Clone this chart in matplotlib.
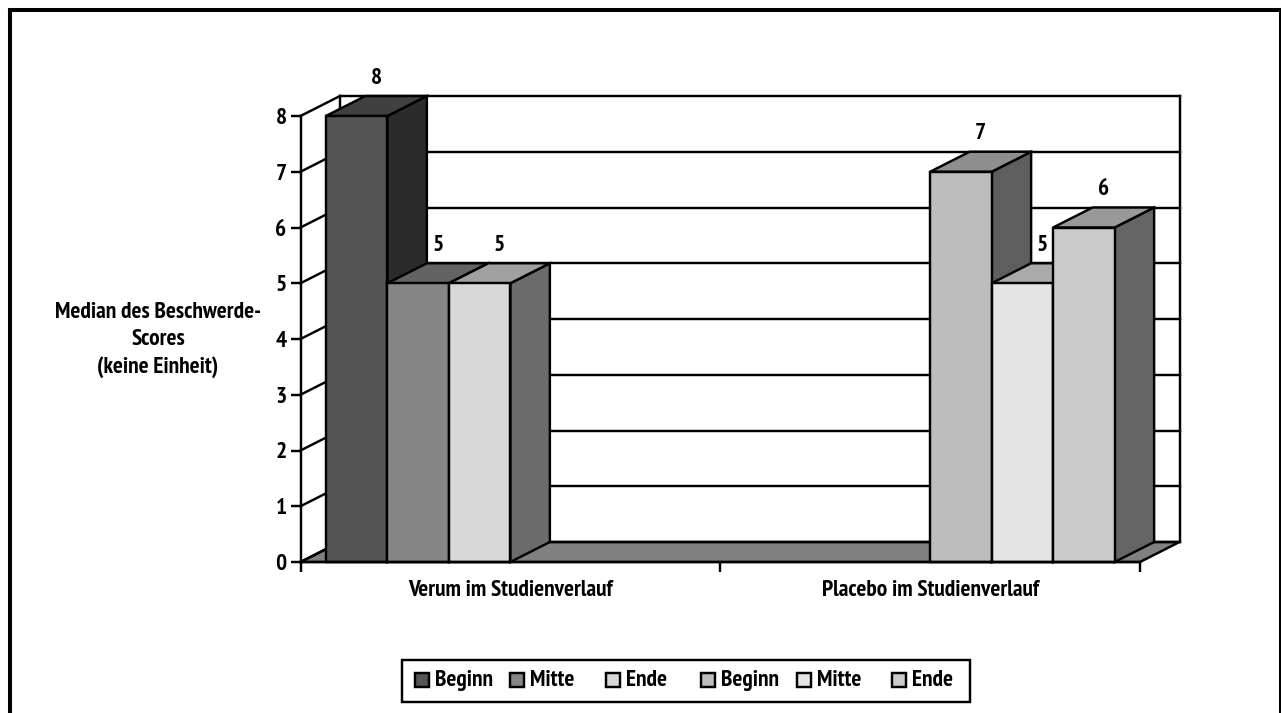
#!/usr/bin/env python3
"""Pseudo-3D grey bar chart: median complaint score, verum vs placebo."""
import numpy as np
import matplotlib; matplotlib.use("Agg")
import matplotlib.pyplot as plt
from matplotlib.patches import Polygon, Rectangle
from matplotlib.lines import Line2D

plt.rcParams["font.family"] = ["PT Sans Narrow", "Liberation Sans", "DejaVu Sans"]
plt.rcParams["font.weight"] = "bold"

# data: six series over two groups, the empty slots stay NaN
groups = ["Verum im Studienverlauf", "Placebo im Studienverlauf"]
series = ["Beginn", "Mitte", "Ende", "Beginn", "Mitte", "Ende"]
verum = [8, 5, 5, np.nan, np.nan, np.nan]
placebo = [np.nan, np.nan, np.nan, 7, 5, 6]
yticks = [0, 1, 2, 3, 4, 5, 6, 7, 8]
ylabel = "Median des Beschwerde-\nScores\n(keine Einheit)"

front = ["#555555", "#868686", "#d8d8d8", "#bdbdbd", "#e4e4e4", "#cbcbcb"]
top = ["#404040", "#636363", "#a0a0a0", "#8e8e8e", "#aaaaaa", "#999999"]
side = ["#2b2b2b", "#444444", "#6b6b6b", "#5e5e5e", "#666666", "#656565"]
FLOOR = "#808080"

W, H = 1281, 713
LW = 1.75
FS = 16.8
x0, x1, y0, y8 = 300.5, 1140.0, 562.0, 116.0

fig = plt.figure(figsize=(W / 100, H / 100), dpi=100)
ax = fig.add_axes([x0 / W, 1 - y0 / H, (x1 - x0) / W, (y0 - y8) / H])
ax.set_xlim(0, 2)
ax.set_ylim(0, 8)
ax.patch.set_visible(False)
for s in ("top", "right"):
    ax.spines[s].set_visible(False)
for s in ("left", "bottom"):
    ax.spines[s].set_linewidth(LW)
    ax.spines[s].set_zorder(20)

# depth of the fake 3D box, in data units
dx = 39.5 / (x1 - x0) * 2
dy = 20.0 / (y0 - y8) * 8
bar_w = 61.5 / (x1 - x0) * 2

def wall(xs, ys, **kw):
    ax.add_line(Line2D(xs, ys, color="black", lw=LW, clip_on=False,
                       solid_capstyle="projecting", **kw))

# floor, back wall, right edge
ax.add_patch(Polygon([(0, 0), (2, 0), (2 + dx, dy), (dx, dy)], closed=True, fc=FLOOR,
                     ec="black", lw=LW, clip_on=False, zorder=1))
for v in yticks:
    wall([0, dx], [v, v + dy], zorder=1.5)
    wall([dx, 2 + dx], [v + dy, v + dy], zorder=1.5)
wall([dx, dx], [dy, 8 + dy], zorder=1.5)
wall([2 + dx, 2 + dx], [dy, 8 + dy], zorder=1.5)

# bars, painted left to right so that later ones overlap earlier sides
centres = [0.5, 1.5]
z = 2
for g, vals in enumerate([verum, placebo]):
    for i, v in enumerate(vals):
        if np.isnan(v):
            continue
        xl = centres[g] + (i - 3) * bar_w
        xr = xl + bar_w
        ax.add_patch(Polygon([(xr, 0), (xr + dx, dy), (xr + dx, v + dy), (xr, v)], closed=True,
                             fc=side[i], ec="black", lw=LW, clip_on=False, zorder=z))
        ax.add_patch(Polygon([(xl, v), (xr, v), (xr + dx, v + dy), (xl + dx, v + dy)], closed=True,
                             fc=top[i], ec="black", lw=LW, clip_on=False, zorder=z))
        ax.bar(xl, v, width=bar_w, align="edge", color=front[i], edgecolor="black",
               linewidth=LW, clip_on=False, zorder=z + 0.5)
        ax.annotate(f"{v:g}", (xl + bar_w / 2 + dx / 2, v + dy), xytext=(0, 18),
                    textcoords="offset pixels", ha="center", va="center",
                    fontsize=FS, annotation_clip=False, zorder=30)
        z += 1

# axes ticks
ax.set_yticks(yticks)
ax.tick_params(axis="y", length=7, width=LW, labelsize=FS, pad=3)
ax.set_xticks([0, 1, 2])
ax.set_xticklabels([])
ax.tick_params(axis="x", which="major", length=7, width=LW)
ax.set_xticks(centres, minor=True)
ax.set_xticklabels(groups, minor=True, fontsize=FS)
ax.tick_params(axis="x", which="minor", length=0, pad=13)

# y title sits out to the left, not rotated
fig.text(158 / W, 1 - 340 / H, ylabel, ha="center", va="center", fontsize=FS,
         linespacing=1.37)

# legend, placed by hand because the columns are equally spaced
lg_x, lg_y, lg_w, lg_h = 402, 660, 568, 42
fig.add_artist(Rectangle((lg_x / W, 1 - (lg_y + lg_h) / H), lg_w / W, lg_h / H,
                         transform=fig.transFigure, fc="white", ec="black", lw=LW))
for i, name in enumerate(series):
    sx = 415 + i * 95.4
    fig.add_artist(Rectangle((sx / W, 1 - 687 / H), 14 / W, 14 / H, transform=fig.transFigure,
                             fc=front[i], ec="black", lw=LW))
    fig.text((sx + 20) / W, 1 - 680.5 / H, name, ha="left", va="center", fontsize=FS)

# outer frame, open at the bottom; the right side is cut by the image edge
for xs, ys in [([10, 10], [713, 10]), ([10, 1281], [10, 10]), ([1281, 1281], [10, 713])]:
    fig.add_artist(Line2D([a / W for a in xs], [1 - b / H for b in ys],
                          transform=fig.transFigure, color="black", lw=2.9))

fig.savefig("out.png", dpi=100)
plt.close(fig)
